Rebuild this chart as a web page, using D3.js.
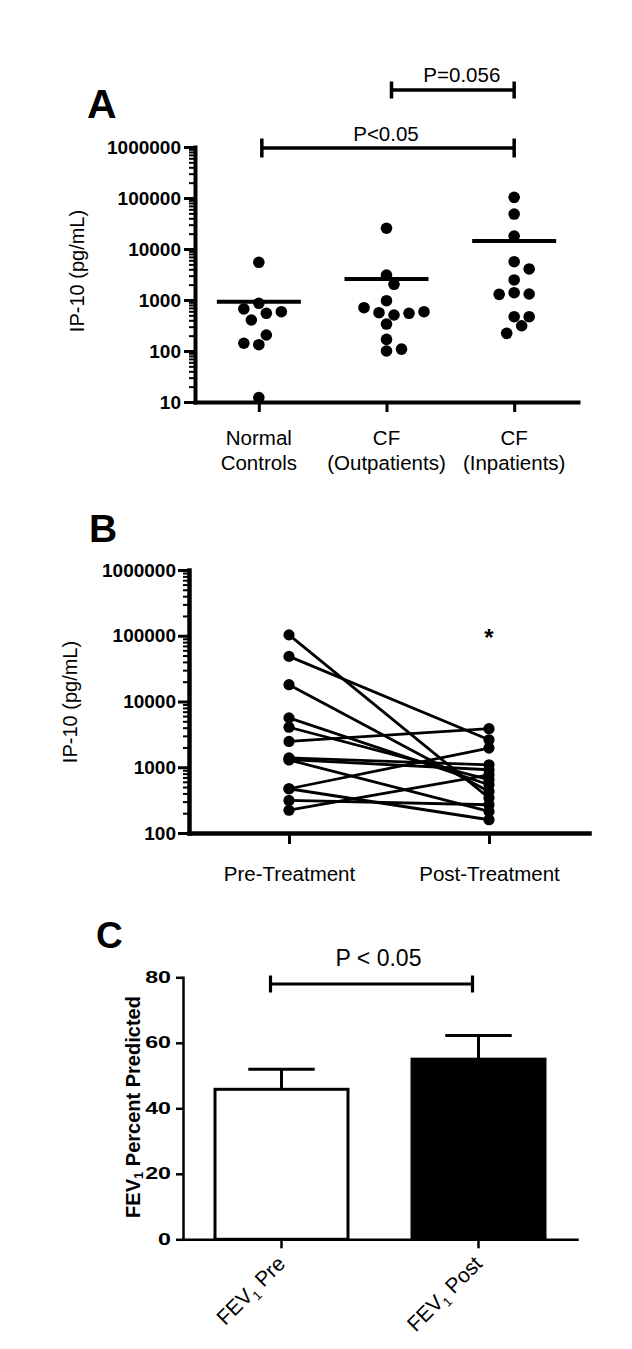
<!DOCTYPE html>
<html><head><meta charset="utf-8">
<script src="https://cdn.jsdelivr.net/npm/d3@7"></script>
<style>
body{margin:0;background:#fff}
svg{display:block}
text{font-family:"Liberation Sans",Arial,Helvetica,sans-serif}
</style></head>
<body><svg id="chart" width="632" height="1349"></svg>
<script>
// ---------------- DATA ----------------
// Panel A
const groupsA = ["Normal Controls", "CF (Outpatients)", "CF (Inpatients)"];
const normalControls = [5480, 861, 12.2, 133, 548, 405, 667, 590, 206, 142];
const cfOutpatients = [25500, 3090, 2030, 968, 338, 100, 508, 563, 548, 706, 590, 169, 109];
const cfInpatients = [103000, 48500, 18000, 5630, 4060, 2470, 1390, 1310, 1290, 471, 471, 313, 222];
const groupMeansA = [925, 2580, 14400];
const logTicksA = [10, 100, 1000, 10000, 100000, 1000000];
const pLabelsA = ["P=0.056", "P<0.05"];

// Panel B (paired)
const treatmentGroups = ["Pre-Treatment", "Post-Treatment"];
const preTreatment = [103000, 48500, 18000, 5630, 4060, 2470, 1390, 1310, 1290, 471, 471, 313, 222];
const postTreatment = [341, 2620, 428, 541, 646, 3860, 1090, 916, 213, 1960, 159, 269, 768];
const logTicksB = [100, 1000, 10000, 100000, 1000000];

// Panel C
const fevGroups = ["Pre", "Post"];
const fevMeans = [45.8, 55.0];
const fevSem = [6.1, 7.2];
const fevTicks = [0, 20, 40, 60, 80];
const pLabelC = "P < 0.05";

// ---------------- DRAW ----------------
const svg = d3.select("#chart");
const FONT = '"Liberation Sans",Arial,Helvetica,sans-serif';

function styleAxis(g, domainW, tickW, fontSize, bold) {
  g.select(".domain").attr("stroke-width", domainW).attr("stroke-linecap", "square");
  g.selectAll(".tick line").attr("stroke-width", tickW);
  g.selectAll(".tick text").attr("font-family", FONT).attr("font-size", fontSize)
    .attr("font-weight", bold ? "bold" : "normal").attr("fill", "#000");
}

function bracket(g, x1, x2, y, cap, w) {
  g.append("path")
    .attr("d", `M${x1},${y - cap}V${y + cap}M${x1},${y}H${x2}M${x2},${y - cap}V${y + cap}`)
    .attr("fill", "none").attr("stroke", "#000").attr("stroke-width", w);
}

function swarm(values, yScale, step, minDist) {
  const placed = [];
  values.forEach(v => {
    const y = yScale(v);
    for (let k = 0; k < 40; k++) {
      const offs = k === 0 ? [0] : [k * step, -k * step];
      let found = null;
      for (const o of offs) {
        if (placed.every(p => Math.hypot(p.dx - o, p.y - y) >= minDist)) { found = o; break; }
      }
      if (found !== null) { placed.push({ v, y, dx: found }); break; }
    }
  });
  return placed;
}

// ===== Panel A =====
{
  const g = svg.append("g");
  const y = d3.scaleLog().domain([10, 1000000]).range([402, 147]);
  const x = d3.scalePoint().domain(groupsA).range([195, 578]).padding(0.5);
  const minor = y.ticks().filter(t => !logTicksA.includes(t));

  g.append("g").attr("transform", "translate(195,0)")
    .call(d3.axisLeft(y).tickValues(minor).tickSize(6).tickFormat(""))
    .call(a => { a.select(".domain").remove(); a.selectAll(".tick line").attr("stroke-width", 2); });
  const ya = g.append("g").attr("transform", "translate(195,0)")
    .call(d3.axisLeft(y).tickValues(logTicksA).tickSize(11).tickSizeOuter(0).tickPadding(3).tickFormat(d3.format("d")));
  styleAxis(ya, 4, 3, 19, true);

  const xa = g.append("g").attr("transform", "translate(0,402)")
    .call(d3.axisBottom(x).tickSize(10).tickSizeOuter(0).tickFormat(""));
  styleAxis(xa, 4, 3, 20, false);

  groupsA.forEach(name => {
    const i = name.indexOf(" ");
    const lines = [name.slice(0, i), name.slice(i + 1)];
    lines.forEach((t, j) => {
      g.append("text").attr("x", x(name)).attr("y", 445 + j * 25)
        .attr("text-anchor", "middle").attr("font-size", 20.5).text(t);
    });
  });

  g.append("text").attr("transform", "translate(77,271) rotate(-90)")
    .attr("text-anchor", "middle").attr("dominant-baseline", "central")
    .attr("font-size", 20).text("IP-10 (pg/mL)");

  g.append("text").attr("x", 87).attr("y", 118).attr("font-size", 41)
    .attr("font-weight", "bold").text("A");

  const series = [normalControls, cfOutpatients, cfInpatients];
  groupsA.forEach((name, i) => {
    const cx = x(name);
    g.append("line").attr("x1", cx - 42).attr("x2", cx + 42)
      .attr("y1", y(groupMeansA[i])).attr("y2", y(groupMeansA[i]))
      .attr("stroke", "#000").attr("stroke-width", 4);
    g.selectAll(null).data(swarm(series[i], y, 7.5, 11.5)).join("circle")
      .attr("cx", d => cx + d.dx).attr("cy", d => d.y).attr("r", 5.8).attr("fill", "#000");
  });

  // significance brackets
  const b1 = [x(groupsA[1]) + 5, x(groupsA[2])];
  bracket(g, b1[0], b1[1], 90, 8.5, 3.5);
  g.append("text").attr("x", (b1[0] + b1[1]) / 2 + 9).attr("y", 82).attr("text-anchor", "middle")
    .attr("font-size", 20.5).text(pLabelsA[0]);
  const b2 = [x(groupsA[0]) + 3, x(groupsA[2])];
  bracket(g, b2[0], b2[1], 148, 9.5, 3.5);
  g.append("text").attr("x", (b2[0] + b2[1]) / 2 - 2).attr("y", 141).attr("text-anchor", "middle")
    .attr("font-size", 20.5).text(pLabelsA[1]);
}

// ===== Panel B =====
{
  const g = svg.append("g");
  const y = d3.scaleLog().domain([100, 1000000]).range([833, 570]);
  const x = d3.scalePoint().domain(treatmentGroups).range([189, 589]).padding(0.5);
  const minor = y.ticks().filter(t => !logTicksB.includes(t));

  g.append("g").attr("transform", "translate(189,0)")
    .call(d3.axisLeft(y).tickValues(minor).tickSize(6).tickFormat(""))
    .call(a => { a.select(".domain").remove(); a.selectAll(".tick line").attr("stroke-width", 2); });
  const ya = g.append("g").attr("transform", "translate(189,0)")
    .call(d3.axisLeft(y).tickValues(logTicksB).tickSize(11).tickSizeOuter(0).tickPadding(2).tickFormat(d3.format("d")));
  styleAxis(ya, 4.5, 3, 19, true);

  const xa = g.append("g").attr("transform", "translate(0,833)")
    .call(d3.axisBottom(x).tickSize(11).tickSizeOuter(0).tickPadding(22));
  styleAxis(xa, 4.5, 3, 20.5, false);

  g.append("text").attr("transform", "translate(70,702) rotate(-90)")
    .attr("text-anchor", "middle").attr("dominant-baseline", "central")
    .attr("font-size", 20).text("IP-10 (pg/mL)");

  g.append("text").attr("x", 89).attr("y", 542).attr("font-size", 39)
    .attr("font-weight", "bold").text("B");

  const pairs = preTreatment.map((v, i) => [v, postTreatment[i]]);
  g.selectAll(null).data(pairs).join("line")
    .attr("x1", x(treatmentGroups[0])).attr("x2", x(treatmentGroups[1]))
    .attr("y1", d => y(d[0])).attr("y2", d => y(d[1]))
    .attr("stroke", "#000").attr("stroke-width", 2.8);
  g.selectAll(null).data(preTreatment).join("circle")
    .attr("cx", x(treatmentGroups[0])).attr("cy", d => y(d)).attr("r", 5.6).attr("fill", "#000");
  g.selectAll(null).data(postTreatment).join("circle")
    .attr("cx", x(treatmentGroups[1])).attr("cy", d => y(d)).attr("r", 5.6).attr("fill", "#000");

  g.append("text").attr("x", x(treatmentGroups[1])).attr("y", 646).attr("text-anchor", "middle")
    .attr("font-size", 24).attr("font-weight", "bold").text("*");
}

// ===== Panel C =====
{
  const g = svg.append("g");
  const y = d3.scaleLinear().domain([0, 80]).range([1239.3, 977.3]);
  const x = d3.scaleBand().domain(fevGroups).range([183, 577]).paddingInner(0.325).paddingOuter(0.1625);

  const ya = g.append("g").attr("transform", "translate(183,0)")
    .call(d3.axisLeft(y).tickValues(fevTicks).tickSize(7).tickSizeOuter(0).tickPadding(5));
  styleAxis(ya, 2.5, 2.5, 16, true);
  ya.selectAll(".tick text").attr("transform", "scale(1.45,1)").attr("x", -12 / 1.45);

  const xa = g.append("g").attr("transform", "translate(0,1239.3)")
    .call(d3.axisBottom(x).tickSize(9).tickSizeOuter(0).tickFormat(""));
  styleAxis(xa, 2.5, 2.5, 19, false);

  // bars
  g.selectAll(null).data(fevGroups).join("rect")
    .attr("x", d => x(d)).attr("width", x.bandwidth())
    .attr("y", (d, i) => y(fevMeans[i])).attr("height", (d, i) => y(0) - y(fevMeans[i]))
    .attr("fill", (d, i) => i === 0 ? "#fff" : "#000")
    .attr("stroke", "#000").attr("stroke-width", 3);
  // error bars
  fevGroups.forEach((d, i) => {
    const cx = x(d) + x.bandwidth() / 2;
    const top = y(fevMeans[i] + fevSem[i]);
    g.append("path")
      .attr("d", `M${cx},${y(fevMeans[i])}V${top}M${cx - x.bandwidth() / 4},${top}H${cx + x.bandwidth() / 4}`)
      .attr("stroke", "#000").attr("stroke-width", 3).attr("fill", "none");
    const t = g.append("text")
      .attr("transform", `translate(${cx + 5},${1265}) rotate(-45)`)
      .attr("text-anchor", "end").attr("font-size", 21);
    t.append("tspan").text("FEV");
    t.append("tspan").attr("font-size", 13).attr("dy", 5).text("1");
    t.append("tspan").attr("dy", -5).text(" " + d);
  });

  // y label
  const yl = g.append("text").attr("transform", "translate(133,1107) rotate(-90)")
    .attr("text-anchor", "middle").attr("dominant-baseline", "central")
    .attr("font-size", 20).attr("font-weight", "bold");
  yl.append("tspan").text("FEV");
  yl.append("tspan").attr("font-size", 13).attr("dy", 5).text("1");
  yl.append("tspan").attr("dy", -5).text(" Percent Predicted");

  g.append("text").attr("x", 96).attr("y", 948).attr("font-size", 37)
    .attr("font-weight", "bold").text("C");

  const c1 = x(fevGroups[0]) + x.bandwidth() / 2 - 11;
  const c2 = x(fevGroups[1]) + x.bandwidth() / 2 - 6;
  bracket(g, c1, c2, 984, 8.5, 3.2);
  g.append("text").attr("x", (c1 + c2) / 2 + 7).attr("y", 966).attr("text-anchor", "middle")
    .attr("font-size", 23).text(pLabelC);
}
</script></body></html>
